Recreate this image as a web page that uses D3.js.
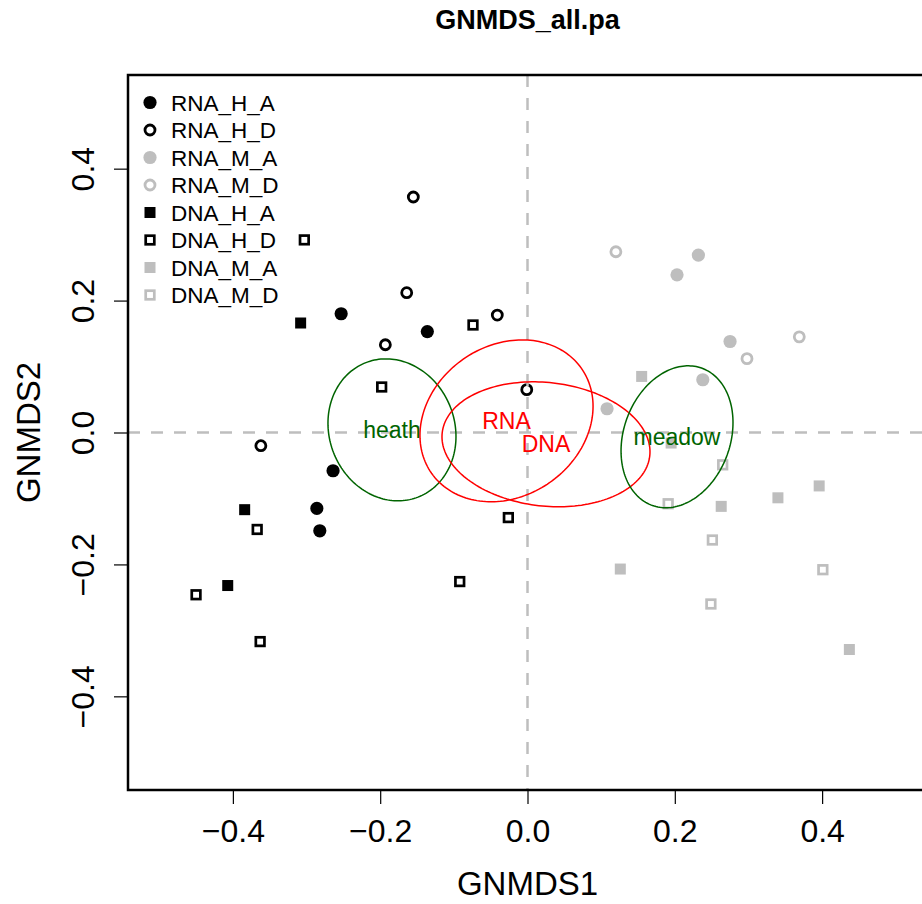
<!DOCTYPE html>
<html lang="en">
    <head>
        <meta charset="utf-8">
        <title>GNMDS_all.pa</title>
        <script type="text/javascript" src="https://d3js.org/d3.v7.min.js"></script>
        <style type="text/css">
          body { margin: 0; background: #fff; }
          svg { display: block; font-family: "Liberation Sans", Arial, Helvetica, sans-serif; }
          .box { fill: none; stroke: black; stroke-width: 2.5px; }
          .zero { stroke: #bebebe; stroke-width: 2.5px; stroke-dasharray: 12 11; }
          .ell { fill: none; stroke-width: 1.5px; }
        </style>
    </head>
    <body>
        <svg width="922" height="904"></svg>
        <script type="text/javascript">
            const svg = d3.select("svg");

            // plot area (pixels)
            const pLeft = 128, pRight = 927, pTop = 75, pBottom = 790;

            // sample scores, one array per group: [GNMDS1, GNMDS2]
            const groups = ["RNA_H_A", "RNA_H_D", "RNA_M_A", "RNA_M_D",
                            "DNA_H_A", "DNA_H_D", "DNA_M_A", "DNA_M_D"];
            const rnaHA = [[-0.253, 0.180], [-0.136, 0.153], [-0.264, -0.058], [-0.286, -0.115], [-0.282, -0.149]];
            const rnaHD = [[-0.155, 0.357], [-0.164, 0.212], [-0.193, 0.133], [-0.041, 0.178], [-0.001, 0.065], [-0.362, -0.020]];
            const rnaMA = [[0.232, 0.269], [0.203, 0.239], [0.275, 0.138], [0.238, 0.080], [0.108, 0.036]];
            const rnaMD = [[0.120, 0.274], [0.369, 0.145], [0.298, 0.112]];
            const dnaHA = [[-0.308, 0.166], [-0.384, -0.117], [-0.407, -0.232]];
            const dnaHD = [[-0.303, 0.292], [-0.074, 0.163], [-0.198, 0.069], [-0.026, -0.129],
                           [-0.092, -0.226], [-0.367, -0.147], [-0.450, -0.246], [-0.363, -0.317]];
            const dnaMA = [[0.155, 0.085], [0.263, -0.112], [0.340, -0.099], [0.396, -0.081],
                           [0.126, -0.207], [0.437, -0.329], [0.195, -0.016]];
            const dnaMD = [[0.265, -0.049], [0.191, -0.108], [0.251, -0.163], [0.401, -0.208], [0.249, -0.260]];
            const scores = [rnaHA, rnaHD, rnaMA, rnaMD, dnaHA, dnaHD, dnaMA, dnaMD];

            // ordiellipse results: centre, half extents and tilt (rho)
            const ellNames = ["heath", "RNA", "DNA", "meadow"];
            const ellCx = [-0.184, -0.0285, 0.0251, 0.203];
            const ellCy = [0.004, 0.0177, -0.0179, -0.0065];
            const ellHx = [0.0869, 0.1175, 0.1412, 0.076];
            const ellHy = [0.1076, 0.1227, 0.0947, 0.1076];
            const ellRho = [-0.094, 0.18, -0.12, 0.2];

            const xTicks = [-0.4, -0.2, 0.0, 0.2, 0.4];
            const yTicks = [-0.4, -0.2, 0.0, 0.2, 0.4];

            const x = d3.scaleLinear().domain([-0.5424, 0.5424]).range([pLeft, pRight]);
            const y = d3.scaleLinear().domain([-0.542, 0.542]).range([pBottom, pTop]);

            const grey = "#bebebe";
            const col = g => g.includes("_M_") ? grey : "black";
            const isSquare = g => g.startsWith("DNA");
            const isOpen = g => g.endsWith("_D");

            svg.append("clipPath").attr("id", "plotclip")
               .append("rect").attr("x", pLeft).attr("y", pTop)
               .attr("width", pRight - pLeft).attr("height", pBottom - pTop);

            const plot = svg.append("g").attr("clip-path", "url(#plotclip)");

            function marker(sel, g) {
                const c = col(g);
                if (isSquare(g)) {
                    const s = isOpen(g) ? 8.6 : 11;
                    sel.append("rect")
                       .attr("x", -s / 2).attr("y", -s / 2).attr("width", s).attr("height", s)
                       .attr("fill", isOpen(g) ? "none" : c)
                       .attr("stroke", isOpen(g) ? c : "none")
                       .attr("stroke-width", 2.7);
                } else {
                    sel.append("circle")
                       .attr("r", isOpen(g) ? 5 : 6.6)
                       .attr("fill", isOpen(g) ? "none" : c)
                       .attr("stroke", isOpen(g) ? c : "none")
                       .attr("stroke-width", 2.8);
                }
            }

            // points
            groups.forEach((g, i) => {
                plot.selectAll(null)
                    .data(scores[i])
                    .enter()
                    .append("g")
                    .attr("transform", d => `translate(${x(d[0])},${y(d[1])})`)
                    .each(function () { marker(d3.select(this), g); });
            });

            // zero lines
            plot.append("line").attr("class", "zero")
                .attr("x1", x(0)).attr("x2", x(0)).attr("y1", pTop).attr("y2", pBottom);
            plot.append("line").attr("class", "zero")
                .attr("x1", pLeft).attr("x2", pRight).attr("y1", y(0)).attr("y2", y(0));

            // ellipses
            const ts = d3.range(0, 2 * Math.PI + 0.01, Math.PI / 90);
            ellNames.forEach((n, i) => {
                const c = (n === "RNA" || n === "DNA") ? "#ff0000" : "#006400";
                const s = Math.sqrt(1 - ellRho[i] * ellRho[i]);
                const line = d3.line()
                    .x(t => x(ellCx[i] + ellHx[i] * Math.cos(t)))
                    .y(t => y(ellCy[i] + ellHy[i] * (ellRho[i] * Math.cos(t) + s * Math.sin(t))));
                plot.append("path").attr("class", "ell").attr("stroke", c).attr("d", line(ts));
                plot.append("text")
                    .attr("x", x(ellCx[i])).attr("y", y(ellCy[i]))
                    .attr("text-anchor", "middle").attr("dominant-baseline", "central")
                    .attr("fill", c).attr("font-size", 23)
                    .text(n);
            });

            // box
            svg.append("rect").attr("class", "box")
               .attr("x", pLeft).attr("y", pTop).attr("width", pRight - pLeft).attr("height", pBottom - pTop);

            // axes
            const xAxis = svg.append("g").attr("transform", `translate(0,${pBottom})`)
                .call(d3.axisBottom(x).tickValues(xTicks).tickFormat(d3.format(".1f"))
                      .tickSize(14).tickPadding(8));
            const yAxis = svg.append("g").attr("transform", `translate(${pLeft},0)`)
                .call(d3.axisLeft(y).tickValues(yTicks).tickFormat(d3.format(".1f"))
                      .tickSize(14).tickPadding(8));
            [xAxis, yAxis].forEach(a => {
                a.select(".domain").remove();
                a.selectAll(".tick line").attr("stroke", "black").attr("stroke-width", 1.2);
                a.selectAll(".tick text").attr("font-size", 32).attr("fill", "black")
                 .attr("font-family", "Liberation Sans, Arial, sans-serif")
                 .text(d => d3.format(".1f")(d).replace("-", "\u2212"));
            });
            xAxis.selectAll(".tick text").attr("y", 0).attr("dy", null)
                 .attr("transform", "translate(0,52)");
            yAxis.selectAll(".tick text")
                 .attr("x", 0).attr("dy", null).attr("text-anchor", "middle")
                 .attr("transform", "translate(-34,0) rotate(-90)");

            // titles
            svg.append("text").attr("x", (pLeft + pRight) / 2).attr("y", 29)
               .attr("text-anchor", "middle").attr("font-weight", "bold").attr("font-size", 27)
               .text("GNMDS_all.pa");
            svg.append("text").attr("x", (pLeft + pRight) / 2).attr("y", 895)
               .attr("text-anchor", "middle").attr("font-size", 33)
               .text("GNMDS1");
            svg.append("text")
               .attr("transform", `translate(40,${(pTop + pBottom) / 2}) rotate(-90)`)
               .attr("text-anchor", "middle").attr("font-size", 33)
               .text("GNMDS2");

            // legend
            const legend = svg.append("g");
            groups.forEach((g, i) => {
                const row = legend.append("g").attr("transform", `translate(150,${102.5 + i * 27.5})`);
                marker(row, g);
                row.append("text").attr("x", 21).attr("y", 0).attr("dy", "0.36em")
                   .attr("font-size", 22.5).text(g);
            });
        </script>
    </body>
</html>
